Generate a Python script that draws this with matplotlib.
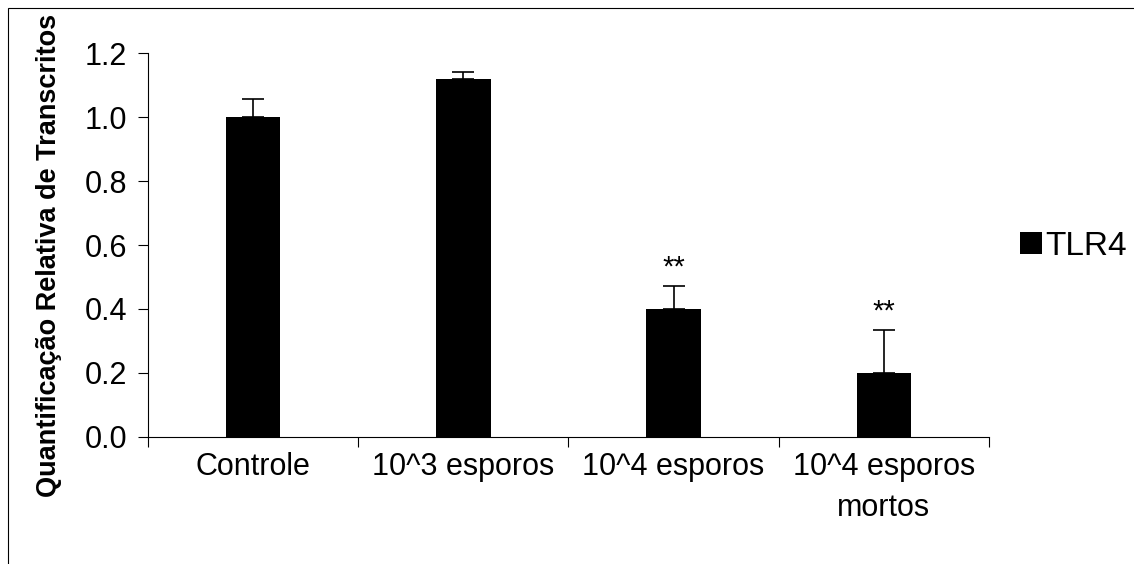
import numpy as np
import matplotlib
matplotlib.use("Agg")
import matplotlib.pyplot as plt
from matplotlib.patches import Rectangle

categories = ["Controle", "10^3 esporos", "10^4 esporos", "10^4 esporos\nmortos"]
values = [1.0, 1.12, 0.40, 0.20]
errors = [0.056, 0.02, 0.072, 0.134]
stars = ["", "", "**", "**"]
series_name = "TLR4"

plt.rcParams["font.family"] = ["Liberation Sans", "DejaVu Sans"]

fig = plt.figure(figsize=(11.34, 5.64), dpi=100)
ax = fig.add_axes([0.1305, 0.2252, 0.7416, 0.6808])

x = np.arange(len(categories))
ax.bar(x, values, width=0.26, color="black", label=series_name, zorder=2)
ax.errorbar(x, values, yerr=[np.zeros(len(errors)), errors], fmt="none",
            ecolor="black", elinewidth=1.2, capsize=8, capthick=1.2, zorder=3)

for xi, v, e, s in zip(x, values, errors, stars):
    if s:
        ax.annotate(s, (xi, v + e), xytext=(0, 3), textcoords="offset points",
                    ha="center", va="bottom", fontsize=21)

ax.set_xlim(-0.5, len(categories) - 0.5)
ax.set_ylim(0, 1.2)
ax.set_yticks(np.arange(0, 1.21, 0.2))
ax.set_yticklabels([f"{t:.1f}" for t in np.arange(0, 1.21, 0.2)])
ax.set_xticks(x)
ax.set_xticklabels(categories, linespacing=1.45)
ax.set_xticks(np.arange(-0.5, len(categories)), minor=True)
ax.tick_params(axis="x", which="major", length=0, pad=11, labelsize=22)
ax.tick_params(axis="x", which="minor", length=7, width=0.8, direction="out")
ax.tick_params(axis="y", length=7, width=0.8, direction="out", labelsize=22, pad=8)

for side in ["top", "right"]:
    ax.spines[side].set_visible(False)
ax.spines["left"].set_linewidth(0.8)
ax.spines["bottom"].set_linewidth(0.8)

ax.set_ylabel("Quantificação Relativa de Transcritos", fontsize=19.5,
              fontweight="bold")
ax.yaxis.set_label_coords(-0.102, 0.474)

ax.legend(loc="center left", bbox_to_anchor=(1.037, 0.497), frameon=False,
          fontsize=24, handlelength=0.67, handleheight=0.67, handletextpad=0.1,
          borderpad=0, borderaxespad=0)

fig.patches.append(Rectangle((8 / 1134, -0.1), 1.2, 1.1 - 8 / 564,
                             transform=fig.transFigure, fill=False,
                             edgecolor="black", linewidth=0.8))

fig.savefig("out.png", dpi=100)
